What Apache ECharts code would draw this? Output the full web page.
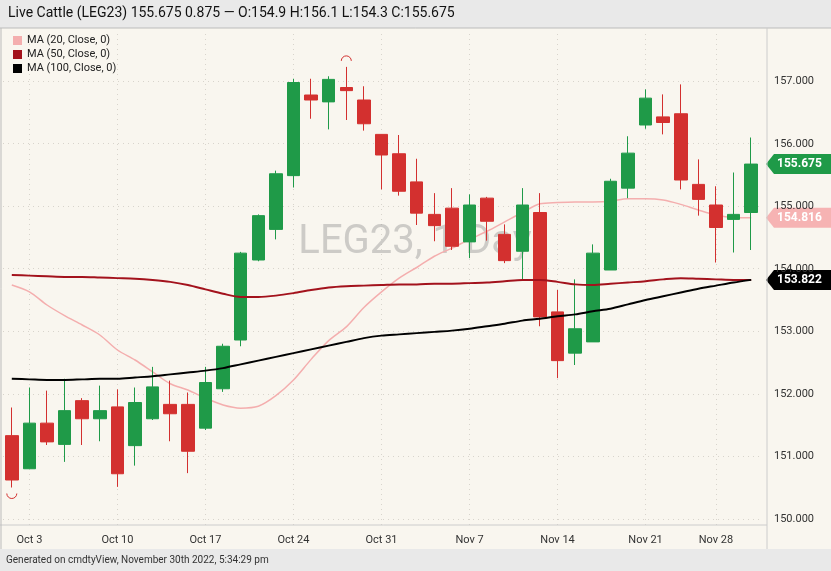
<!DOCTYPE html>
<html><head><meta charset="utf-8">
<script src="https://cdn.jsdelivr.net/npm/echarts@6/dist/echarts.min.js"></script>
<style>html,body{margin:0;padding:0;background:#f9f6ef}#c{width:831px;height:571px}</style>
</head><body><div id="c"></div>
<script>
const dates = ['Sep 30','Oct 3','Oct 4','Oct 5','Oct 6','Oct 7','Oct 10','Oct 11','Oct 12','Oct 13','Oct 14','Oct 17','Oct 18','Oct 19','Oct 20','Oct 21','Oct 24','Oct 25','Oct 26','Oct 27','Oct 28','Oct 31','Nov 1','Nov 2','Nov 3','Nov 4','Nov 7','Nov 8','Nov 9','Nov 10','Nov 11','Nov 14','Nov 15','Nov 16','Nov 17','Nov 18','Nov 21','Nov 22','Nov 23','Nov 25','Nov 28','Nov 29','Nov 30'];
const tickLabels = ['Oct 3','Oct 10','Oct 17','Oct 24','Oct 31','Nov 7','Nov 14','Nov 21','Nov 28'];
const opens  = [151.33,150.80,151.53,151.19,151.89,151.60,151.79,151.17,151.60,151.83,151.83,151.45,152.08,152.86,154.14,154.63,155.49,156.78,156.67,156.90,156.70,156.15,155.84,155.39,154.87,154.97,154.43,155.13,154.55,154.28,154.90,153.31,152.65,152.83,153.98,155.29,156.30,156.43,156.48,155.35,155.02,154.79,154.90];
const closes = [150.62,151.53,151.23,151.73,151.60,151.73,150.72,151.86,152.11,151.68,151.08,152.18,152.76,154.25,154.85,155.52,156.98,156.70,157.03,156.85,156.32,155.82,155.24,154.89,154.69,154.36,155.02,154.76,154.13,155.02,153.23,152.53,153.04,154.25,155.40,155.85,156.73,156.34,155.42,155.11,154.66,154.87,155.675];
const highs  = [151.78,152.10,152.05,152.24,151.93,152.13,152.07,152.10,152.43,152.21,152.02,152.43,152.80,154.27,154.87,155.57,157.04,157.04,157.08,157.23,156.92,156.15,156.14,155.76,155.21,155.29,155.19,155.15,154.71,155.29,155.21,153.66,153.83,154.39,155.44,156.12,156.87,156.79,156.95,155.75,155.32,155.54,156.10];
const lows   = [150.50,150.80,151.18,150.91,151.18,151.24,150.51,150.85,151.58,151.24,150.73,151.42,152.03,152.76,154.12,154.47,155.30,156.40,156.23,156.38,156.21,155.27,155.17,154.70,154.44,154.30,154.17,154.45,154.09,153.82,153.08,152.25,152.46,152.83,153.98,155.13,156.24,156.15,155.27,154.85,154.10,154.26,154.30];
const ma20  = [153.74,153.63,153.42,153.25,153.10,152.94,152.70,152.54,152.35,152.16,152.06,151.93,151.82,151.77,151.80,151.97,152.22,152.55,152.85,153.07,153.38,153.63,153.85,154.02,154.20,154.33,154.47,154.60,154.75,154.90,155.04,155.06,155.07,155.07,155.08,155.12,155.12,155.10,155.03,154.94,154.86,154.82,154.816];
const ma50  = [153.90,153.89,153.88,153.87,153.87,153.86,153.85,153.84,153.82,153.79,153.74,153.67,153.60,153.55,153.55,153.57,153.61,153.66,153.70,153.72,153.73,153.74,153.75,153.75,153.76,153.76,153.77,153.78,153.80,153.82,153.82,153.79,153.75,153.74,153.76,153.78,153.80,153.83,153.85,153.84,153.83,153.82,153.822];
const ma100 = [152.24,152.23,152.22,152.22,152.23,152.24,152.24,152.26,152.28,152.31,152.34,152.37,152.41,152.47,152.53,152.59,152.65,152.71,152.77,152.83,152.89,152.93,152.95,152.97,152.99,153.01,153.04,153.08,153.12,153.17,153.20,153.24,153.27,153.32,153.36,153.43,153.50,153.56,153.62,153.68,153.73,153.78,153.822];
const yTicks = [150,151,152,153,154,155,156,157];

const GREEN='#1f9a48', RED='#d3302f';
const chart = echarts.init(document.getElementById('c'));
const candle = dates.map((d,i)=>[opens[i],closes[i],lows[i],highs[i]]);
const dotted = {color:'#d8d4cc',type:[1,4],width:1};
chart.setOption({
  backgroundColor:'#f9f6ef',
  animation:false,
  textStyle:{fontFamily:'Roboto, Arial, sans-serif'},
  legend:{left:8,top:30,orient:'vertical',itemWidth:9,itemHeight:9,itemGap:3,icon:'rect',
    textStyle:{fontSize:11,color:'#222'},data:['MA (20, Close, 0)','MA (50, Close, 0)','MA (100, Close, 0)']},
  grid:{left:3,right:71,top:30,bottom:46},
  xAxis:{type:'category',data:dates,boundaryGap:true,
    axisLine:{show:false},axisTick:{show:false},
    axisLabel:{interval:(i,v)=>tickLabels.includes(v),fontSize:11,color:'#333',margin:10},
    splitLine:{show:false}},
  yAxis:{type:'value',position:'right',min:149.9,max:157.82,scale:true,
    axisLine:{show:false},axisTick:{show:false},splitLine:{show:false},
    axisLabel:{customValues:yTicks,formatter:v=>v.toFixed(3),fontSize:11,color:'#333',margin:14}},
  series:[
    {type:'line',name:'grid',data:[],z:0,silent:true,
      markLine:{silent:true,symbol:'none',label:{show:false},lineStyle:dotted,z:0,
        data:[...yTicks.map(v=>({yAxis:v})),...tickLabels.map(v=>({xAxis:v}))]}},
    {type:'candlestick',name:'LEG23',data:candle,barWidth:13,z:3,
      itemStyle:{color:GREEN,color0:RED,borderColor:GREEN,borderColor0:RED,borderWidth:1}},
    {type:'line',name:'MA (20, Close, 0)',data:ma20,symbol:'none',smooth:0.3,lineStyle:{color:'#f4aeae',width:1.5},itemStyle:{color:'#f4aeae'},z:2},
    {type:'line',name:'MA (50, Close, 0)',data:ma50,symbol:'none',smooth:0.3,lineStyle:{color:'#a3121c',width:2},itemStyle:{color:'#a3121c'},z:4},
    {type:'line',name:'MA (100, Close, 0)',data:ma100,symbol:'none',smooth:0.3,lineStyle:{color:'#000',width:2},itemStyle:{color:'#000'},z:4}
  ]
});
const py = v=>chart.convertToPixel({yAxisIndex:0},v);
const px = i=>chart.convertToPixel({xAxisIndex:0},i);
function tag(v,bg,fg,lbl){
  const y=py(v);
  return {type:'group',z:100,children:[
    {type:'polygon',shape:{points:[[766,y],[774,y-10],[831,y-10],[831,y+10],[774,y+10]]},style:{fill:bg}},
    {type:'text',x:777,y:y,style:{text:lbl,fill:fg,font:'bold 12px Roboto, Arial',verticalAlign:'middle'}}]};
}
const iMax = highs.indexOf(Math.max(...highs)), iMin = lows.indexOf(Math.min(...lows));
chart.setOption({graphic:[
  {type:'rect',shape:{x:0,y:0,width:831,height:28},style:{fill:'#e9e9e9'},z:50},
  {type:'line',shape:{x1:0,y1:28,x2:831,y2:28},style:{stroke:'#bbb'},z:50},
  {type:'text',left:8,top:6,z:51,style:{text:'Live Cattle (LEG23) 155.675 0.875 — O:154.9 H:156.1 L:154.3 C:155.675',font:'14px Roboto, Arial',fill:'#111'}},
  {type:'rect',shape:{x:0,y:549,width:831,height:22},style:{fill:'#e9e9e9'},z:50},
  {type:'text',left:6,top:555,z:51,style:{text:'Generated on cmdtyView, November 30th 2022, 5:34:29 pm',font:'10px Roboto, Arial',fill:'#333'}},
  {type:'line',shape:{x1:767,y1:28,x2:767,y2:549},style:{stroke:'#ccc'},z:50},
  {type:'line',shape:{x1:0,y1:525,x2:767,y2:525},style:{stroke:'#ccc'},z:50},
  {type:'line',shape:{x1:1,y1:28,x2:1,y2:549},style:{stroke:'#bbb'},z:50},
  {type:'text',x:415,y:243,z:0,style:{text:'LEG23, 1 Day',font:'40px Roboto, Arial',fill:'rgba(150,150,150,0.45)',align:'center',verticalAlign:'middle'}},
  {type:'arc',z:60,shape:{cx:px(iMax),cy:py(highs[iMax])-6,r:5,startAngle:Math.PI,endAngle:2*Math.PI},style:{stroke:RED,fill:null,lineWidth:1}},
  {type:'arc',z:60,shape:{cx:px(iMin),cy:py(lows[iMin])+6,r:5,startAngle:0,endAngle:Math.PI},style:{stroke:RED,fill:null,lineWidth:1}},
  tag(closes[closes.length-1],GREEN,'#fff','155.675'),
  tag(ma20[ma20.length-1],'#f6b3b3','#fff','154.816'),
  tag(ma100[ma100.length-1],'#000','#fff','153.822')
]});
</script></body></html>
